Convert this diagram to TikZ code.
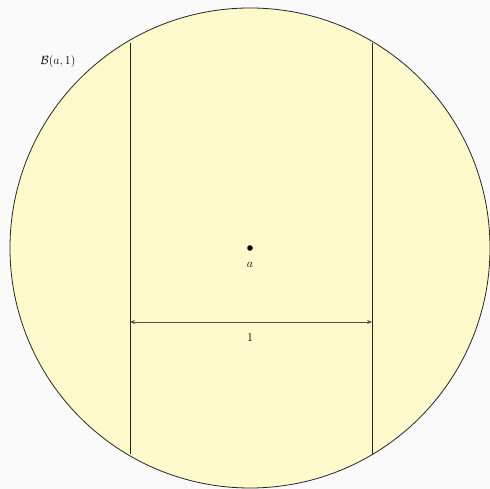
\documentclass[tikz,border=0pt]{standalone}
\usepackage{amsmath}
\usepackage{tikz}
\usetikzlibrary{arrows.meta}
\usetikzlibrary{positioning}
\definecolor{ballfill}{HTML}{FFF9CC}
\definecolor{pagebg}{HTML}{FAFAFA}

\begin{document}
\begin{tikzpicture}[x=1pt, y=1pt, font=\fontsize{13}{15}\selectfont,
  edge/.style={line width=0.8pt, draw=black!85},
  span/.style={line width=0.8pt, draw=black!70, {Stealth[length=5pt,width=4pt]}-{Stealth[length=5pt,width=4pt]}}]

% Page background
\fill[pagebg] (0,0) rectangle (490,489);
\useasboundingbox (0,0) rectangle (490,489);

% Ball B(a,1)
\coordinate (ctr) at (250,241);
\draw[edge, fill=ballfill] (ctr) circle (240);
\node (ballname) at (58,427) {$\mathcal{B}(a,1)$};

% Two vertical lines
\foreach \x/\n in {130/lft, 372/rgt}
{
  \coordinate (\n top) at (\x,446);
  \coordinate (\n bot) at (\x,35);
  \draw[edge] (\n top) -- (\n bot);
  \coordinate (\n mid) at (\x,167);
}

% Centre point
\fill (250,241) circle (2.8) coordinate (a);
\node[below=11pt of a] (alabel) {$a$};

% Width marker
\draw[span] (lftmid) -- (rgtmid);
\node (width) at (250,151) {$1$};

\end{tikzpicture}
\end{document}
